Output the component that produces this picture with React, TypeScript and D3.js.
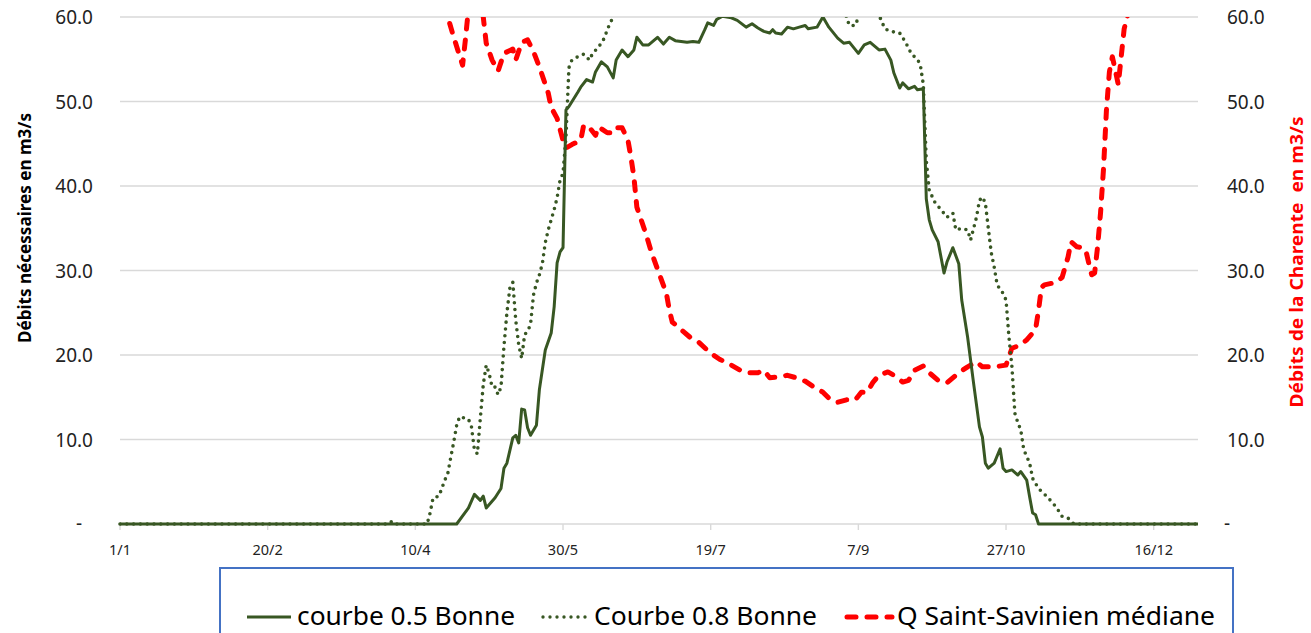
import React from 'react';
import * as d3 from 'd3';

// X axis: day-of-year (leap year), ticks every 50 days
const xTickDays = [0, 50, 100, 150, 200, 250, 300, 350];
const xTickLabels = ['1/1', '20/2', '10/4', '30/5', '19/7', '7/9', '27/10', '16/12'];
const yTicks = [0, 10, 20, 30, 40, 50, 60];
const yTickLabels = ['-', '10.0', '20.0', '30.0', '40.0', '50.0', '60.0'];

// courbe 0.5 Bonne
const c05Days = [0, 114, 118, 120, 122, 123, 124, 127, 129, 130, 131, 133, 134, 135, 136, 137, 138, 139, 141, 142, 144, 146, 147, 148, 149, 150, 151, 152, 155, 156, 158, 160, 161, 163, 165, 167, 168, 170, 172, 174, 175, 177, 179, 182, 184, 186, 188, 192, 194, 196, 198, 199, 201, 202, 204, 207, 209, 212, 214, 216, 218, 220, 221, 222, 224, 226, 228, 230, 232, 233, 236, 238, 240, 243, 245, 247, 250, 252, 254, 257, 259, 261, 262, 264, 265, 267, 269, 270, 272, 273, 274, 275, 277, 279, 280, 282, 284, 285, 287, 289, 291, 292, 293, 294, 296, 298, 299, 300, 302, 304, 305, 307, 308, 309, 310, 311, 365];
const c05Vals = [0, 0, 1.9, 3.5, 2.8, 3.3, 1.9, 3.1, 4.2, 6.6, 7.2, 10.2, 10.5, 9.6, 13.6, 13.5, 11.4, 10.5, 11.7, 15.9, 20.6, 22.6, 25.7, 30.9, 32.2, 32.7, 49, 49.4, 51.1, 51.7, 52.6, 52.3, 53.5, 54.7, 54.1, 52.8, 54.9, 56.1, 55.3, 56.1, 57.6, 56.7, 56.7, 57.6, 56.8, 57.6, 57.2, 57, 57.1, 57, 58.5, 59.3, 59, 59.7, 60.1, 59.9, 59.6, 58.8, 59.2, 58.7, 58.3, 58.1, 58.5, 58.1, 58, 58.8, 58.6, 58.8, 59, 58.6, 58.8, 60, 58.8, 57.5, 56.9, 57, 55.7, 56.7, 57, 56.1, 56.2, 54.9, 53.4, 51.6, 52.2, 51.5, 51.8, 51.4, 51.5, 38.5, 36, 34.8, 33.4, 29.7, 31, 32.7, 30.8, 26.5, 22.1, 16.7, 11.5, 10.3, 7.2, 6.6, 7.2, 8.9, 6.6, 6.2, 6.4, 5.8, 6.2, 5.2, 3.2, 1.3, 1.1, 0, 0];

// Courbe 0.8 Bonne
const c08Days = [0, 91, 92, 93, 104, 105, 106, 108, 110, 111, 112, 113, 114, 115, 117, 118, 119, 120, 121, 122, 123, 124, 125, 126, 127, 128, 129, 130, 131, 132, 133, 134, 135, 136, 137, 138, 139, 140, 141, 142, 143, 144, 145, 147, 148, 149, 150, 151, 152, 153, 155, 157, 159, 160, 162, 164, 165, 166, 167, 169, 200, 245, 246, 247, 249, 250, 252, 256, 258, 259, 261, 264, 266, 268, 270, 271, 272, 273, 274, 276, 278, 280, 282, 283, 285, 287, 288, 290, 291, 292, 293, 294, 295, 296, 297, 299, 300, 301, 302, 303, 304, 305, 306, 308, 309, 311, 314, 315, 317, 319, 321, 323, 365];
const c08Vals = [0, 0, 0.3, 0, 0, 1.3, 3.1, 3.3, 5.2, 6, 7.9, 9.7, 11.7, 12.7, 12.5, 12.4, 11.5, 8.8, 8.3, 12.5, 16.5, 18.8, 17.8, 16.2, 16.2, 15.3, 16.2, 21, 25, 27.9, 28.6, 24.1, 21.2, 19.6, 22.4, 22.8, 23.6, 27.1, 28.5, 29.5, 30.8, 33.3, 34.8, 37.2, 38.6, 40.7, 41.5, 45.8, 54, 54.9, 55.3, 55.6, 54.9, 55.7, 56.4, 57.5, 58.5, 59.3, 60, 62, 64, 62, 59.9, 59, 59, 60, 62, 61, 59.4, 58.6, 58.3, 58.1, 57, 55.6, 55, 54.3, 52, 43, 39.5, 38, 37.2, 36.3, 36.8, 34.8, 35, 34.8, 33.6, 36.3, 38.3, 38.7, 38, 35, 32.1, 30.4, 28.3, 27.3, 26.5, 22.1, 18.6, 13.1, 12, 11.1, 8.8, 7.2, 5.4, 4.2, 3.2, 2.8, 2, 0.9, 0.7, 0, 0];

// Q Saint-Savinien médiane
const qDays = [0, 60, 100, 109, 111, 113, 116, 117, 118, 121, 123, 124, 126, 128, 130, 133, 134, 136, 138, 140, 142, 145, 146, 148, 150, 151, 153, 156, 157, 159, 161, 162, 165, 167, 168, 170, 172, 173, 174, 175, 178, 180, 183, 185, 186, 187, 190, 193, 196, 200, 203, 207, 210, 213, 216, 218, 220, 223, 226, 229, 232, 235, 238, 240, 243, 246, 249, 251, 253, 255, 257, 260, 262, 265, 267, 269, 272, 274, 277, 280, 284, 287, 290, 292, 296, 300, 301, 302, 305, 307, 310, 311, 312, 313, 317, 319, 321, 322, 324, 326, 327, 328, 329, 330, 331, 332, 333, 334, 335, 336, 337, 338, 339, 340, 341, 345, 365];
const qVals = [72, 70, 68, 63, 60, 57.6, 54.3, 57.5, 61, 64, 60, 56.9, 54.9, 53.6, 55.7, 56.2, 54.9, 57, 57.3, 55.9, 54.1, 51, 49.3, 48, 45.4, 44.5, 44.9, 45.4, 47.2, 46.9, 46, 47, 46.3, 46.3, 46.9, 46.9, 45.4, 43.4, 41.1, 37.5, 34.4, 32.1, 29.2, 27.3, 25.3, 23.9, 23, 22.1, 21.5, 20.2, 19.5, 18.8, 18.2, 17.9, 17.9, 18.2, 17.3, 17.4, 17.6, 17.3, 16.9, 16.2, 15.6, 14.9, 14.4, 14.7, 14.7, 15.6, 15.6, 16.8, 17.6, 18, 17.6, 16.8, 17, 18.2, 18.7, 17.9, 17, 16.7, 17.9, 18.6, 19.2, 18.6, 18.6, 18.8, 19.8, 20.8, 21.2, 21.8, 23, 25.3, 28, 28.3, 28.6, 29.2, 31.6, 33.4, 32.8, 32.7, 32.4, 30.9, 29.5, 29.7, 32.8, 36.8, 42, 49, 53.5, 55.3, 53.7, 52, 55.3, 58.6, 60, 64, 70];

const GREEN = '#385723';
const RED = '#FF0000';
const GRID = '#d9d9d9';
const FONT = '"Noto Sans", "Open Sans", sans-serif';

export default function App() {
  const x = d3.scaleLinear().domain([0, 365]).range([120, 1198]);
  const y = d3.scaleLinear().domain([0, 60]).range([524, 17]);
  const line = d3.line<[number, number]>().x((d) => x(d[0])).y((d) => y(d[1]));
  const zip = (a: number[], b: number[]) => a.map((d, i) => [d, b[i]] as [number, number]);

  const p05 = line(zip(c05Days, c05Vals)) || '';
  const p08 = line(zip(c08Days, c08Vals)) || '';
  const pq = line(zip(qDays, qVals)) || '';

  const [x0, x1] = x.range();

  return (
    <div style={{ position: 'absolute', left: 0, top: 0 }}>
      <svg width={1311} height={633} style={{ display: 'block', background: '#fff' }}>
        <defs>
          <clipPath id="plotClip">
            <rect x={x0 - 4} y={y(60)} width={x1 - x0 + 8} height={y(0) - y(60) + 6} />
          </clipPath>
        </defs>
        {yTicks.map((t) => (
          <line key={'g' + t} x1={x0} x2={x1} y1={y(t)} y2={y(t)} stroke={GRID} strokeWidth={1.4} />
        ))}
        {xTickDays.map((d) => (
          <line key={'xt' + d} x1={x(d)} x2={x(d)} y1={y(0)} y2={y(0) + 6} stroke={GRID} strokeWidth={1.4} />
        ))}
        {xTickDays.map((d, i) => (
          <text key={'xl' + d} x={x(d)} y={555} textAnchor="middle" fontFamily={FONT} fontSize={14.5} fill="#222">
            {xTickLabels[i]}
          </text>
        ))}
        {yTicks.map((t, i) =>
          t === 0 ? (
            <text key={'yl' + t} x={79} y={y(t) + 6} textAnchor="middle" fontFamily={FONT} fontSize={19} fill="#222">-</text>
          ) : (
            <text key={'yl' + t} x={93} y={y(t) + 7} textAnchor="end" fontFamily={FONT} fontSize={19} fill="#222">
              {yTickLabels[i]}
            </text>
          )
        )}
        {yTicks.map((t, i) =>
          t === 0 ? (
            <text key={'yr' + t} x={1227} y={y(t) + 6} textAnchor="middle" fontFamily={FONT} fontSize={19} fill="#222">-</text>
          ) : (
            <text key={'yr' + t} x={1227} y={y(t) + 7} textAnchor="start" fontFamily={FONT} fontSize={19} fill="#222">
              {yTickLabels[i]}
            </text>
          )
        )}
        <text transform="translate(31,228) rotate(-90)" textAnchor="middle" fontFamily={FONT} fontWeight="bold" fontSize={17} fill="#000" textLength={230} lengthAdjust="spacingAndGlyphs">
          Débits nécessaires en m3/s
        </text>
        <text transform="translate(1303,262) rotate(-90)" textAnchor="middle" fontFamily={FONT} fontWeight="bold" fontSize={17} fill={RED} textLength={291} lengthAdjust="spacingAndGlyphs" style={{ whiteSpace: 'pre' }}>
          {'Débits de la Charente  en m3/s'}
        </text>
        <g clipPath="url(#plotClip)">
          <path d={pq} fill="none" stroke={RED} strokeWidth={5} strokeDasharray="9 11" strokeLinecap="round" strokeLinejoin="round" />
          <path d={p08} fill="none" stroke={GREEN} strokeWidth={3.6} strokeDasharray="0 6.8" strokeLinecap="round" strokeLinejoin="round" />
          <path d={p05} fill="none" stroke={GREEN} strokeWidth={3} strokeLinejoin="round" />
        </g>
        <rect x={220} y={568} width={1013} height={80} fill="#fff" stroke="#4472C4" strokeWidth={2} />
        <line x1={247} x2={291} y1={617} y2={617} stroke={GREEN} strokeWidth={3} />
        <text x={297} y={625} fontFamily={FONT} fontSize={25} fill="#000" textLength={218} lengthAdjust="spacingAndGlyphs">courbe 0.5 Bonne</text>
        <line x1={543} x2={588} y1={617} y2={617} stroke={GREEN} strokeWidth={3.4} strokeDasharray="0 7" strokeLinecap="round" />
        <text x={594} y={625} fontFamily={FONT} fontSize={25} fill="#000" textLength={223} lengthAdjust="spacingAndGlyphs">Courbe 0.8 Bonne</text>
        <line x1={847} x2={892} y1={617} y2={617} stroke={RED} strokeWidth={5} strokeDasharray="9 11" strokeLinecap="round" />
        <text x={897} y={625} fontFamily={FONT} fontSize={25} fill="#000" textLength={318} lengthAdjust="spacingAndGlyphs">Q Saint-Savinien médiane</text>
      </svg>
    </div>
  );
}
